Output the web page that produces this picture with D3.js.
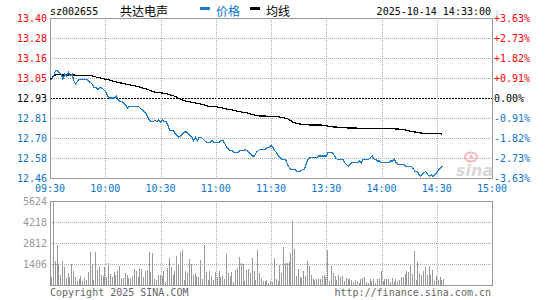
<!DOCTYPE html>
<html>
<head>
<meta charset="utf-8">
<script src="https://cdn.jsdelivr.net/npm/d3@7"></script>
<style>
    body { margin: 0; background: #fff; }
    text { font-family: "DejaVu Sans Mono", monospace; font-size: 10px; }
    .cjk { font-family: "Noto Sans CJK SC", sans-serif; font-size: 12px; }
</style>
</head>
<body>
<svg id="chart" width="545" height="300"></svg>
<script>
const stockCode = "sz002655";
const stockName = "共达电声";
const quoteTime = "2025-10-14 14:33:00";
const preClose = 12.93;

const priceTicks = ["13.40", "13.28", "13.16", "13.05", "12.93", "12.81", "12.70", "12.58", "12.46"];
const pctTicks = ["+3.63%", "+2.73%", "+1.82%", "+0.91%", "0.00%", "-0.91%", "-1.82%", "-2.73%", "-3.63%"];
const timeTicks = ["09:30", "10:00", "10:30", "11:00", "11:30", "13:30", "14:00", "14:30", "15:00"];
const volumeTicks = ["5624", "4218", "2812", "1406"];

// one value per trading minute from 09:30
const prices = [
    13.04, 13.04, 13.06, 13.09, 13.09, 13.08, 13.07, 13.04, 13.07, 13.06,
    13.08, 13.06, 13.07, 13.03, 13.01, 13.03, 13.04, 13.04, 13.04, 13.04,
    13.04, 13.03, 13.02, 13.01, 12.99, 12.99, 12.98, 12.99, 12.99, 12.98,
    12.97, 12.95, 12.93, 12.93, 12.93, 12.93, 12.94, 12.92, 12.91, 12.91,
    12.90, 12.89, 12.87, 12.88, 12.88, 12.88, 12.88, 12.88, 12.88, 12.87,
    12.86, 12.85, 12.84, 12.82, 12.80, 12.79, 12.79, 12.80, 12.79, 12.80,
    12.79, 12.80, 12.79, 12.79, 12.77, 12.74, 12.74, 12.74, 12.72, 12.71,
    12.70, 12.71, 12.72, 12.73, 12.73, 12.72, 12.71, 12.70, 12.68, 12.70,
    12.68, 12.70, 12.70, 12.69, 12.68, 12.67, 12.67, 12.67, 12.68, 12.67,
    12.67, 12.67, 12.67, 12.68, 12.68, 12.66, 12.64, 12.63, 12.62, 12.62,
    12.61, 12.61, 12.61, 12.62, 12.62, 12.62, 12.63, 12.62, 12.61, 12.60,
    12.59, 12.59, 12.61, 12.62, 12.63, 12.63, 12.63, 12.63, 12.64, 12.64,
    12.65, 12.64, 12.62, 12.61, 12.59, 12.58, 12.57, 12.57, 12.57, 12.54,
    12.52, 12.51, 12.51, 12.51, 12.50, 12.50, 12.50, 12.51, 12.51, 12.54,
    12.57, 12.58, 12.58, 12.58, 12.58, 12.58, 12.59, 12.59, 12.59, 12.59,
    12.59, 12.61, 12.61, 12.61, 12.60, 12.58, 12.57, 12.57, 12.57, 12.57,
    12.55, 12.54, 12.53, 12.54, 12.55, 12.55, 12.55, 12.55, 12.56, 12.55,
    12.57, 12.57, 12.57, 12.57, 12.58, 12.59, 12.57, 12.57, 12.56, 12.56,
    12.55, 12.55, 12.55, 12.55, 12.55, 12.56, 12.56, 12.57, 12.55, 12.54,
    12.54, 12.54, 12.54, 12.53, 12.53, 12.53, 12.53, 12.52, 12.50, 12.50,
    12.49, 12.47, 12.48, 12.49, 12.50, 12.48, 12.47, 12.48, 12.47, 12.48,
    12.49, 12.51, 12.52, 12.53
];

const avgPrices = [
    13.040, 13.047, 13.059, 13.065, 13.066, 13.066, 13.066, 13.065, 13.065, 13.065,
    13.065, 13.065, 13.065, 13.065, 13.064, 13.064, 13.064, 13.064, 13.064, 13.064,
    13.064, 13.063, 13.062, 13.059, 13.056, 13.053, 13.051, 13.048, 13.046, 13.043,
    13.041, 13.039, 13.036, 13.033, 13.030, 13.027, 13.024, 13.022, 13.019, 13.017,
    13.014, 13.012, 13.010, 13.008, 13.006, 13.004, 13.002, 12.999, 12.996, 12.993,
    12.990, 12.987, 12.984, 12.981, 12.976, 12.971, 12.967, 12.965, 12.963, 12.962,
    12.961, 12.959, 12.958, 12.956, 12.953, 12.950, 12.946, 12.943, 12.939, 12.934,
    12.927, 12.922, 12.917, 12.914, 12.910, 12.908, 12.907, 12.905, 12.902, 12.901,
    12.898, 12.896, 12.894, 12.891, 12.888, 12.884, 12.882, 12.881, 12.880, 12.880,
    12.879, 12.877, 12.875, 12.873, 12.870, 12.867, 12.865, 12.864, 12.862, 12.860,
    12.858, 12.855, 12.852, 12.850, 12.848, 12.846, 12.844, 12.842, 12.839, 12.836,
    12.833, 12.830, 12.827, 12.826, 12.824, 12.824, 12.824, 12.824, 12.823, 12.823,
    12.823, 12.823, 12.823, 12.822, 12.821, 12.818, 12.816, 12.814, 12.811, 12.808,
    12.802, 12.795, 12.788, 12.784, 12.782, 12.779, 12.777, 12.776, 12.775, 12.774,
    12.773, 12.772, 12.772, 12.772, 12.772, 12.772, 12.772, 12.772, 12.770, 12.769,
    12.767, 12.765, 12.763, 12.762, 12.760, 12.760, 12.759, 12.758, 12.757, 12.757,
    12.756, 12.755, 12.754, 12.754, 12.754, 12.754, 12.754, 12.753, 12.753, 12.753,
    12.753, 12.753, 12.753, 12.752, 12.752, 12.752, 12.752, 12.752, 12.752, 12.752,
    12.751, 12.751, 12.751, 12.751, 12.751, 12.751, 12.749, 12.749, 12.748, 12.748,
    12.747, 12.746, 12.745, 12.743, 12.740, 12.737, 12.734, 12.732, 12.731, 12.729,
    12.727, 12.725, 12.724, 12.724, 12.723, 12.723, 12.723, 12.723, 12.722, 12.722,
    12.722, 12.722, 12.721, 12.717
];

const volumes = [
    513, 5624, 1606, 2676, 1405, 669, 1606, 1227, 446, 825,
    513, 1405, 937, 513, 290, 379, 602, 290, 446, 335,
    870, 2230, 1405, 335, 2230, 1004, 1227, 669, 602, 1227,
    558, 1494, 736, 513, 892, 700, 959, 1271, 446, 446,
    825, 669, 446, 446, 602, 1048, 937, 558, 1137, 1070,
    513, 937, 1004, 2230, 870, 2163, 424, 335, 669, 669,
    602, 937, 201, 1115, 1806, 1227, 669, 937, 1940, 1360,
    2208, 2342, 335, 937, 825, 1717, 1383, 669, 825, 602,
    558, 1672, 424, 2676, 870, 335, 937, 602, 335, 870,
    513, 937, 513, 602, 424, 2074, 780, 602, 870, 200,
    1004, 1115, 1850, 1494, 1405, 290, 1004, 1093, 825, 1784,
    959, 335, 2342, 825, 446, 290, 290, 335, 156, 290,
    223, 1784, 424, 290, 1338, 825, 2565, 1494, 1450, 1539,
    2163, 4350, 2386, 602, 1048, 513, 446, 959, 602, 1606,
    1271, 691, 379, 335, 379, 400, 400, 602, 669, 558,
    2342, 268, 1271, 825, 602, 335, 669, 558, 602, 268,
    468, 400, 400, 335, 223, 335, 290, 156, 379, 446,
    513, 223, 112, 400, 290, 400, 112, 400, 400, 937,
    268, 400, 400, 400, 223, 468, 201, 400, 290, 335,
    558, 513, 736, 937, 847, 1271, 736, 2275, 335, 1539,
    825, 669, 937, 1182, 669, 1271, 669, 1004, 268, 600,
    335, 513, 335, 400
];

const RED = "#ff0000";
const BLUE = "#0a74cc";
const GREY = "#999999";

let svg = d3.select("#chart");

let xScale = d3.scaleLinear().domain([0, 240]).range([50, 492]);
let pctMax = parseFloat(pctTicks[0]) / 100;
let priceScale = d3.scaleLinear()
    .domain([preClose * (1 - pctMax), preClose * (1 + pctMax)])
    .range([178, 18]);
let volumeScale = d3.scaleLinear().domain([0, +volumeTicks[0]]).range([285, 201]);

function labelColor(i, mid) {
    if (i < mid) return RED;
    if (i > mid) return BLUE;
    return "#000";
}

function drawHeader() {
    svg.append("text").attr("x", 50).attr("y", 15).text(stockCode);
    svg.append("text").classed("cjk", true).attr("x", 120).attr("y", 15.5).text(stockName);

    let legend = [{ label: "价格", color: "#1a7dd0", x: 200 }, { label: "均线", color: "#000", x: 250 }];
    let g = svg.append("g");
    g.selectAll("rect").data(legend).enter().append("rect")
        .attr("x", d => d.x).attr("y", 7).attr("width", 10).attr("height", 3)
        .attr("fill", d => d.color);
    g.selectAll("text").data(legend).enter().append("text")
        .classed("cjk", true)
        .attr("x", d => d.x + 16).attr("y", 15.5)
        .attr("fill", d => d.color === "#000" ? "#000" : BLUE)
        .text(d => d.label);

    svg.append("text").attr("x", 491).attr("y", 15).attr("text-anchor", "end").text(quoteTime);
}

function drawPriceGrid() {
    let [lo, hi] = priceScale.domain();
    let levels = d3.range(priceTicks.length).map(k => hi - k * (hi - lo) / (priceTicks.length - 1));
    let mid = Math.floor(priceTicks.length / 2);
    let g = svg.append("g").attr("shape-rendering", "crispEdges");

    levels.forEach((v, i) => {
        if (i === 0 || i === levels.length - 1) return;
        let y = Math.round(priceScale(v)) + 0.5;
        g.append("line")
            .attr("x1", xScale(0)).attr("x2", xScale(240))
            .attr("y1", y).attr("y2", y)
            .attr("stroke", i === mid ? "#000" : "#aaa")
            .attr("stroke-dasharray", i === mid ? "2,1" : "1,1");
    });

    timeTicks.forEach((t, i) => {
        if (i === 0 || i === timeTicks.length - 1) return;
        let x = Math.round(xScale(i * 30)) + 0.5;
        g.append("line")
            .attr("x1", x).attr("x2", x)
            .attr("y1", priceScale.range()[1]).attr("y2", priceScale.range()[0])
            .attr("stroke", "#aaa").attr("stroke-dasharray", "1,1");
    });

    g.append("rect")
        .attr("x", xScale(0) + 0.5).attr("y", priceScale.range()[1] + 0.5)
        .attr("width", xScale(240) - xScale(0)).attr("height", priceScale.range()[0] - priceScale.range()[1])
        .attr("fill", "none").attr("stroke", GREY);

    svg.append("g").selectAll("text").data(priceTicks).enter().append("text")
        .attr("x", 47).attr("y", (d, i) => priceScale(levels[i]) + 3.5)
        .attr("text-anchor", "end")
        .attr("fill", (d, i) => labelColor(i, mid))
        .text(d => d);

    svg.append("g").selectAll("text").data(pctTicks).enter().append("text")
        .attr("x", 494).attr("y", (d, i) => priceScale(levels[i]) + 3.5)
        .attr("fill", (d, i) => labelColor(i, mid))
        .text(d => d);

    svg.append("g").selectAll("text").data(timeTicks).enter().append("text")
        .attr("x", (d, i) => xScale(i * 30)).attr("y", 192)
        .attr("text-anchor", "middle")
        .attr("fill", BLUE)
        .text(d => d);
}

function drawWatermark() {
    let g = svg.append("g").attr("transform", "translate(456,176)");
    g.append("ellipse").attr("cx", 15).attr("cy", -19).attr("rx", 6).attr("ry", 4.5)
        .attr("fill", "none").attr("stroke", "#f3b8b8").attr("stroke-width", 2);
    g.append("circle").attr("cx", 15).attr("cy", -19).attr("r", 2).attr("fill", "#f3b8b8");
    g.append("text")
        .style("font-family", "'DejaVu Sans', sans-serif")
        .style("font-size", "16px").style("font-weight", "bold").style("font-style", "italic")
        .attr("fill", "#d8d8d8").text("sina");
}

function drawPriceLines() {
    let line = d3.line()
        .x((d, i) => xScale(i))
        .y(d => priceScale(d));

    svg.append("path").datum(avgPrices)
        .attr("d", line)
        .attr("fill", "none").attr("stroke", "#000").attr("stroke-width", 1.2)
        .attr("shape-rendering", "crispEdges");

    svg.append("path").datum(prices)
        .attr("d", line)
        .attr("fill", "none").attr("stroke", "#1a7dd0").attr("stroke-width", 1.2)
        .attr("shape-rendering", "crispEdges");
}

function drawVolume() {
    let g = svg.append("g").attr("shape-rendering", "crispEdges");
    let [bottom, top] = volumeScale.range();
    let step = (top - bottom) / volumeTicks.length;

    volumeTicks.forEach((t, i) => {
        if (i === 0) return;
        let y = Math.round(volumeScale(+t)) + 0.5;
        g.append("line")
            .attr("x1", xScale(0)).attr("x2", xScale(240))
            .attr("y1", y).attr("y2", y)
            .attr("stroke", "#aaa").attr("stroke-dasharray", "1,1");
    });
    timeTicks.forEach((t, i) => {
        if (i === 0 || i === timeTicks.length - 1) return;
        let x = Math.round(xScale(i * 30)) + 0.5;
        g.append("line")
            .attr("x1", x).attr("x2", x).attr("y1", top).attr("y2", bottom)
            .attr("stroke", "#aaa").attr("stroke-dasharray", "1,1");
    });

    g.selectAll(".vol-bar").data(volumes).enter().append("rect")
        .classed("vol-bar", true)
        .attr("x", (d, i) => Math.round(xScale(i)) + 1)
        .attr("y", d => volumeScale(d))
        .attr("width", 1)
        .attr("height", d => bottom - volumeScale(d))
        .attr("fill", "#999");

    g.append("rect")
        .attr("x", xScale(0) + 0.5).attr("y", top + 0.5)
        .attr("width", xScale(240) - xScale(0)).attr("height", bottom - top)
        .attr("fill", "none").attr("stroke", GREY);

    svg.append("g").selectAll("text").data(volumeTicks).enter().append("text")
        .attr("x", 47).attr("y", d => volumeScale(+d) + 3.5)
        .attr("text-anchor", "end").attr("fill", GREY)
        .text(d => d);

    svg.append("text").attr("x", 50).attr("y", 296).attr("fill", "#666").text("Copyright 2025 SINA.COM");
    svg.append("text").attr("x", 491).attr("y", 296).attr("text-anchor", "end").attr("fill", "#666")
        .text("http://finance.sina.com.cn");
}

drawHeader();
drawPriceGrid();
drawWatermark();
drawPriceLines();
drawVolume();
</script>
</body>
</html>
